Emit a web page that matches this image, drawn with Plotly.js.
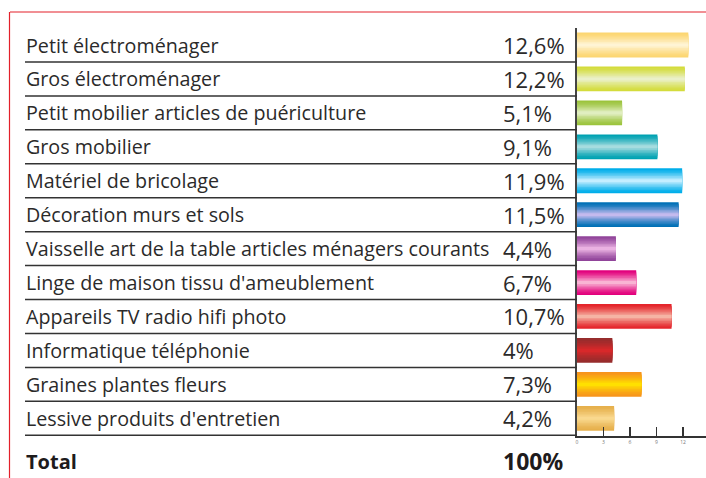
<!DOCTYPE html>
<html><head><meta charset="utf-8">
<script src="https://cdn.plot.ly/plotly-3.0.1.min.js"></script>
<style>html,body{margin:0;padding:0;background:#fff}#chart{width:706px;height:478px}</style>
</head><body><div id="chart"></div>
<script>
const categories = ["Petit électroménager","Gros électroménager","Petit mobilier articles de puériculture","Gros mobilier","Matériel de bricolage","Décoration murs et sols","Vaisselle art de la table articles ménagers courants","Linge de maison tissu d'ameublement","Appareils TV radio hifi photo","Informatique téléphonie","Graines plantes fleurs","Lessive produits d'entretien"];
const values = [12.6,12.2,5.1,9.1,11.9,11.5,4.4,6.7,10.7,4,7.3,4.2];
const pctLabels = ["12,6%","12,2%","5,1%","9,1%","11,9%","11,5%","4,4%","6,7%","10,7%","4%","7,3%","4,2%"];
const totalLabel = "Total";
const totalValue = "100%";
const xTicks = [0,3,6,9,12];
const edgeColors = ['#fcd672','#d4dc3c','#9cc43c','#00a2b2','#00aeea','#0070b6','#91449a','#e2007c','#e4252b','#962c2c','#f7941d','#e6b04c'];
const midColors  = ['#fff4d4','#eaf0c8','#e0eec0','#a6dcdf','#c4eeff','#c4baee','#eab2e2','#f9b4d4','#f5b4a4','#d8282a','#ffe000','#f9d88e'];

const W=706,H=478,T=28,B=42,plotH=H-T-B;
const px=x=>x/W, py=y=>(H-B-y)/plotH;
function hex(c){return [1,3,5].map(i=>parseInt(c.substr(i,2),16));}
function mix(a,b,t){const A=hex(a),Bc=hex(b);return 'rgb('+A.map((v,i)=>Math.round(v+(Bc[i]-v)*t)).join(',')+')';}

const N=8, full=0.73;
const traces=[];
for(let k=0;k<N;k++){
  const t=Math.pow(k/(N-1),1.3);
  traces.push({type:'bar',orientation:'h',y:categories,x:values,width:full*(1-k/N),
    marker:{color:categories.map((c,i)=>mix(edgeColors[i],midColors[i],t)),line:{width:0}},
    hoverinfo:'skip',showlegend:false});
}
const font="'Open Sans', sans-serif";
const txtColor='#2b2a2a';
const annotations=[];
categories.forEach((c,i)=>{
  annotations.push({xref:'paper',yref:'y',x:px(25),y:c,text:c,showarrow:false,xanchor:'left',yanchor:'middle',xshift:-1,font:{family:font,size:19.7,color:txtColor}});
  annotations.push({xref:'paper',yref:'y',x:px(502),y:c,text:pctLabels[i],showarrow:false,xanchor:'left',yanchor:'middle',xshift:-1,font:{family:font,size:22,color:txtColor}});
});
annotations.push({xref:'paper',yref:'paper',x:px(25),y:py(461),text:'<b>'+totalLabel+'</b>',showarrow:false,xanchor:'left',yanchor:'middle',xshift:-1,font:{family:font,size:20,color:'#1e1b1c'}});
annotations.push({xref:'paper',yref:'paper',x:px(502),y:py(461),text:'<b>'+totalValue+'</b>',showarrow:false,xanchor:'left',yanchor:'middle',xshift:-1,font:{family:font,size:23,color:'#1e1b1c'}});

const shapes=[];
for(let i=0;i<categories.length;i++){
  shapes.push({type:'line',xref:'paper',yref:'y',x0:px(25),x1:px(577),y0:i+0.5,y1:i+0.5,line:{color:'#333',width:1.5}});
}
shapes.push({type:'line',xref:'paper',yref:'paper',x0:px(10),x1:1,y0:py(12),y1:py(12),line:{color:'#e3202a',width:1.2}});
shapes.push({type:'line',xref:'paper',yref:'paper',x0:px(9.5),x1:px(9.5),y0:py(12),y1:py(478),line:{color:'#e3202a',width:1.2}});

const layout={width:W,height:H,margin:{l:0,r:0,t:T,b:B},barmode:'overlay',paper_bgcolor:'#fff',plot_bgcolor:'#fff',
  xaxis:{domain:[px(577),1],range:[0,14.6],tickvals:xTicks,ticks:'inside',ticklen:9,tickwidth:1.5,tickcolor:'#333',showline:true,linecolor:'#333',linewidth:1.5,showgrid:false,zeroline:false,tickfont:{size:5,color:'#777',family:font},fixedrange:true},
  yaxis:{type:'category',autorange:'reversed',showticklabels:false,ticks:'',showline:true,linecolor:'#444',linewidth:2,showgrid:false,zeroline:false,fixedrange:true},
  annotations:annotations,shapes:shapes};
Plotly.newPlot('chart',traces,layout,{displayModeBar:false,staticPlot:true});
</script></body></html>
